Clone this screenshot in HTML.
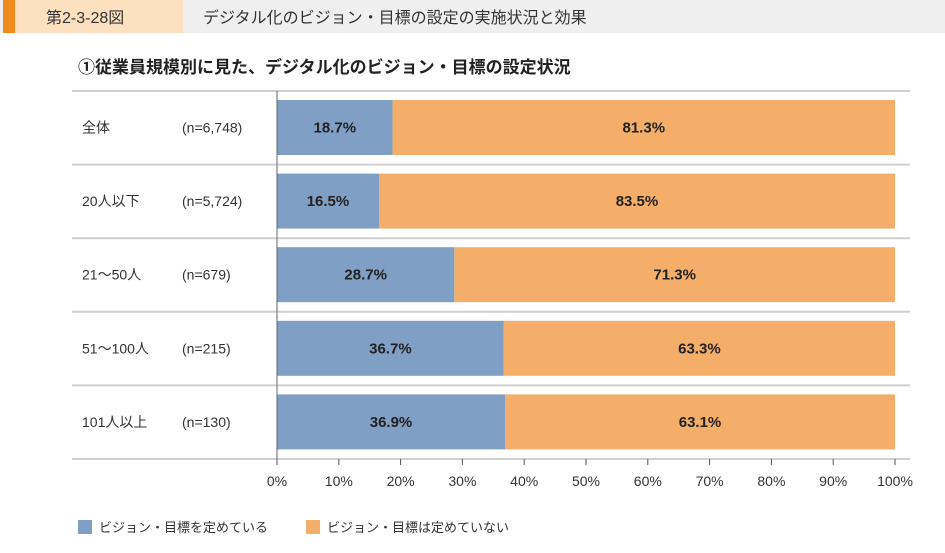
<!DOCTYPE html>
<html><head><meta charset="utf-8"><style>
body{margin:0;width:945px;height:553px;background:#fff;font-family:"Liberation Sans","Noto Sans CJK JP",sans-serif;overflow:hidden}
</style></head><body>
<svg width="945" height="553" style="position:absolute;left:0;top:0">
<rect x="0" y="0" width="945" height="33" fill="#efefef"/>
<rect x="3" y="0" width="12" height="33" fill="#f08a1c"/>
<rect x="15" y="0" width="168" height="33" fill="#fde0bf"/>
<text x="46" y="23" font-size="16" fill="#333">第2-3-28図</text>
<text x="203" y="23" font-size="16" fill="#333">デジタル化のビジョン・目標の設定の実施状況と効果</text>
<text x="78" y="73" font-size="17" font-weight="bold" fill="#222">①従業員規模別に見た、デジタル化のビジョン・目標の設定状況</text>
<g id="plot"></g>
<rect x="78" y="520" width="14" height="14" fill="#7f9fc4"/>
<text x="99" y="532" font-size="13" fill="#333">ビジョン・目標を定めている</text>
<rect x="306" y="520" width="14" height="14" fill="#f4ae6a"/>
<text x="327" y="532" font-size="13" fill="#333">ビジョン・目標は定めていない</text>
</svg>
<script>
const categories=["全体","20人以下","21～50人","51～100人","101人以上"];
const sampleSizes=["(n=6,748)","(n=5,724)","(n=679)","(n=215)","(n=130)"];
const setValues=[18.7,16.5,28.7,36.7,36.9];
const notSetValues=[81.3,83.5,71.3,63.3,63.1];
const ticks=[0,10,20,30,40,50,60,70,80,90,100];
const NS="http://www.w3.org/2000/svg";
const g=document.getElementById('plot');
const x0=277,x1=895,plotTop=91,rowH=73.6;
const xs=v=>x0+(x1-x0)*v/100;
function mk(t,a,txt){const e=document.createElementNS(NS,t);for(const k in a)e.setAttribute(k,a[k]);if(txt!=null)e.textContent=txt;g.appendChild(e);return e;}
for(let i=0;i<=categories.length;i++){
 const l=mk('line',{x1:72,x2:910,y1:plotTop+i*rowH,y2:plotTop+i*rowH,stroke:'#d0d0d0','stroke-width':2});
 
 
}
categories.forEach((c,i)=>{
 const y=plotTop+i*rowH+9,h=55,cy=y+h/2+5;
 const a=mk('rect',{x:xs(0),y:y,width:xs(setValues[i])-xs(0),height:h,fill:'#7f9fc4'});
 
 
 const b=mk('rect',{x:xs(setValues[i]),y:y,width:xs(setValues[i]+notSetValues[i])-xs(setValues[i]),height:h,fill:'#f4ae6a'});
 
 
 const t1=mk('text',{x:(xs(0)+xs(setValues[i]))/2,y:cy,'font-size':15,'font-weight':'bold','text-anchor':'middle',fill:'#222'},setValues[i].toFixed(1)+'%');
 
 
 const t2=mk('text',{x:(xs(setValues[i])+xs(setValues[i]+notSetValues[i]))/2,y:cy,'font-size':15,'font-weight':'bold','text-anchor':'middle',fill:'#222'},notSetValues[i].toFixed(1)+'%');
 
 
 const c1=mk('text',{x:82,y:cy,'font-size':14,fill:'#333'},c);
 
 
 const c2=mk('text',{x:182,y:cy,'font-size':14,fill:'#333'},sampleSizes[i]);
 
 
});
const ax=mk('line',{x1:x0,x2:x0,y1:plotTop,y2:plotTop+categories.length*rowH,stroke:'#666','stroke-width':1});


ticks.forEach(t=>{
 const yb=plotTop+categories.length*rowH;
 const tk=mk('line',{x1:xs(t),x2:xs(t),y1:yb,y2:yb+6,stroke:'#555','stroke-width':1});
 
 
 const tl=mk('text',{x:xs(t),y:yb+27,'font-size':14,'text-anchor':'middle',fill:'#333'},t+'%');
 
 
});
</script>
</body></html>
